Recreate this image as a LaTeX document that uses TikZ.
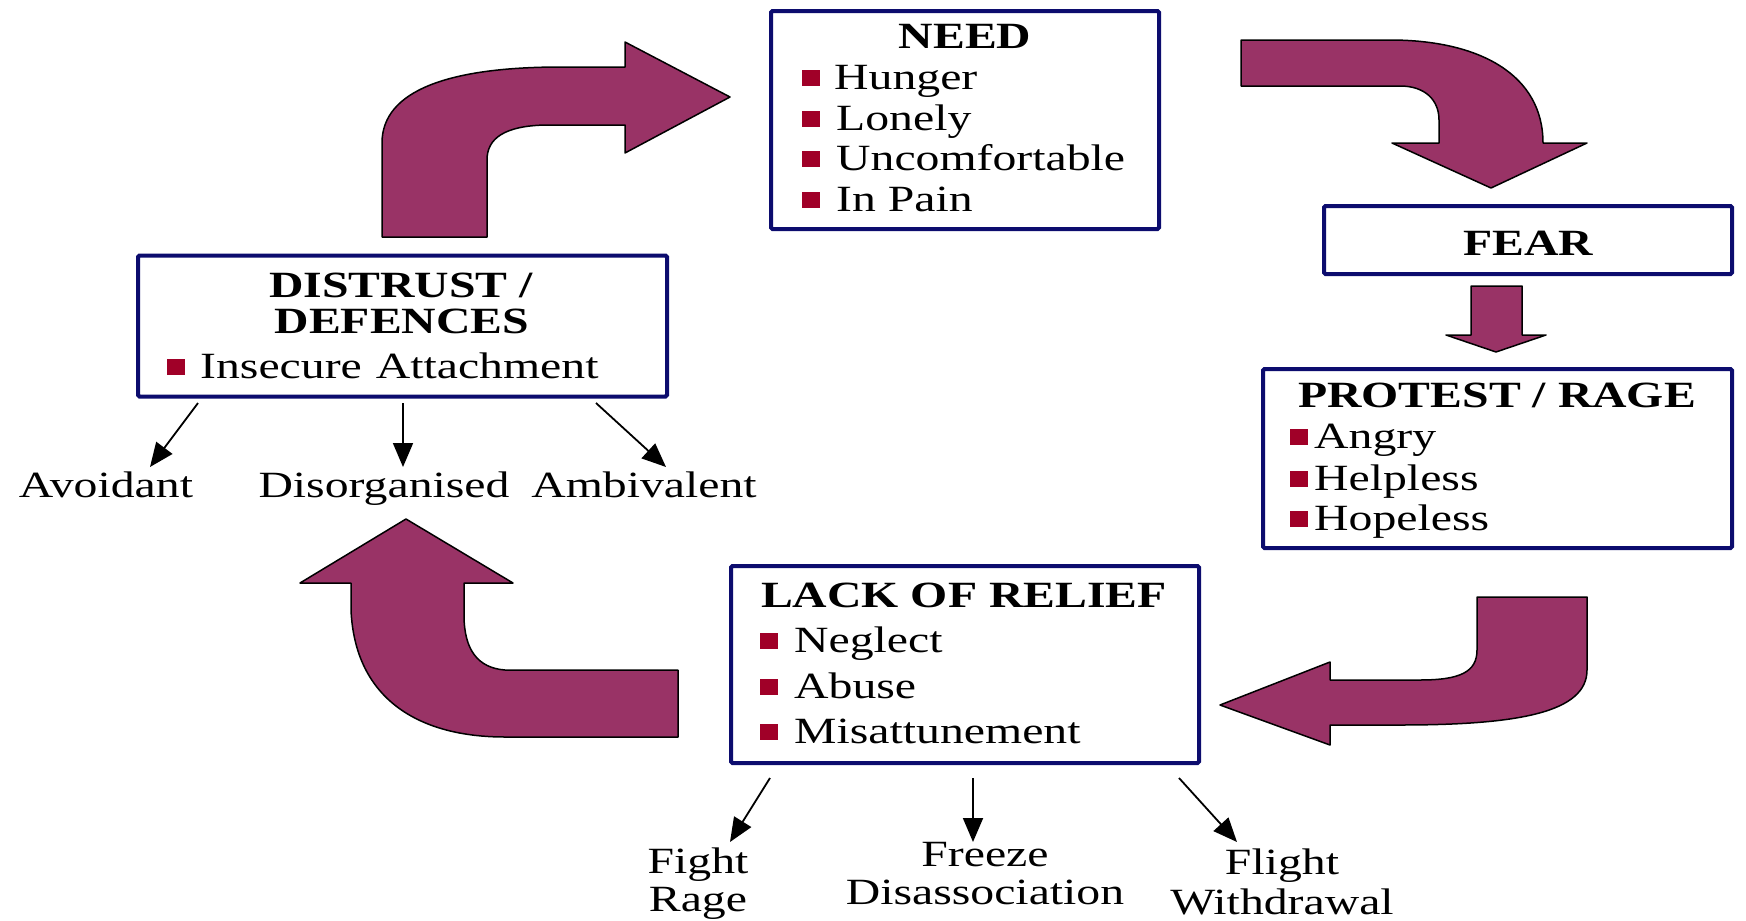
\documentclass[tikz,border=0pt]{standalone}
\usepackage{fontspec}
\setmainfont{Liberation Serif}[FakeStretch=1.29]
\usetikzlibrary{arrows.meta}
\definecolor{arrowpurple}{RGB}{153,51,102}
\definecolor{boxnavy}{RGB}{12,12,110}
\definecolor{bulletred}{RGB}{160,0,40}
\newcommand{\bul}{\textcolor{bulletred}{\rule[3pt]{18pt}{16pt}}}
\begin{document}
\begin{tikzpicture}[x=1pt,y=-1pt,
  box/.style={draw=boxnavy, line width=4pt, rounded corners=1.5pt, fill=white, inner sep=0pt},
  big/.style={fill=arrowpurple, draw=black, line width=1.5pt, line join=round},
  thinarrow/.style={draw=black, line width=1.8pt, -{Triangle[length=24pt,width=20pt]}},
  txt/.style={inner sep=0pt, anchor=base west, font=\fontsize{37}{37}\selectfont},
  ttl/.style={inner sep=0pt, anchor=base, font=\fontsize{37}{37}\selectfont\bfseries},
  lbl/.style={inner sep=0pt, anchor=base, font=\fontsize{37}{37}\selectfont}
]
\useasboundingbox (0,0) rectangle (1746,921);

% ---------- boxes ----------
\node[box, minimum width=388pt, minimum height=218pt] (need) at (965,120) {};
\node[box, minimum width=408pt, minimum height=68pt] (fear) at (1528,240) {};
\node[box, minimum width=469pt, minimum height=179pt] (protest) at (1497.5,458.5) {};
\node[box, minimum width=468pt, minimum height=197pt] (lack) at (965,664.5) {};
\node[box, minimum width=529pt, minimum height=141pt] (distrust) at (402.5,326) {};

% ---------- NEED ----------
\node[ttl] (needt) at (965,48) {NEED};
\node[txt] (n1) at (802,89) {\bul\hspace{14pt}Hunger};
\node[txt] (n2) at (802,130) {\bul\hspace{16pt}Lonely};
\node[txt] (n3) at (802,170) {\bul\hspace{16pt}Uncomfortable};
\node[txt] (n4) at (802,211) {\bul\hspace{16pt}In Pain};

% ---------- FEAR ----------
\node[ttl] (feart) at (1528,255) {FEAR};

% ---------- PROTEST / RAGE ----------
\node[ttl] (prot) at (1497,407) {PROTEST / RAGE};
\node[txt] (p1) at (1290,448) {\bul\hspace{6pt}Angry};
\node[txt] (p2) at (1290,490) {\bul\hspace{6pt}Helpless};
\node[txt] (p3) at (1290,530) {\bul\hspace{6pt}Hopeless};

% ---------- LACK OF RELIEF ----------
\node[ttl] (lackt) at (964,607) {LACK OF RELIEF};
\node[txt] (l1) at (760,652) {\bul\hspace{16pt}Neglect};
\node[txt] (l2) at (760,698) {\bul\hspace{16pt}Abuse};
\node[txt] (l3) at (760,743) {\bul\hspace{16pt}Misattunement};

% ---------- DISTRUST / DEFENCES ----------
\node[ttl] (dt1) at (401,297) {DISTRUST /};
\node[ttl] (dt2) at (402,333) {DEFENCES};
\node[txt] (d1) at (167,378) {\bul\hspace{15pt}Insecure\hspace{14pt}Attachment};

% ---------- outcome labels ----------
\node[lbl] (avoid) at (106,497) {Avoidant};
\node[lbl] (disorg) at (384,497) {Disorganised};
\node[lbl] (ambiv) at (644,497) {Ambivalent};
\node[lbl] (fight) at (698,873) {Fight};
\node[lbl] (rage) at (698,911) {Rage};
\node[lbl] (freeze) at (985,866) {Freeze};
\node[lbl] (disass) at (985,904) {Disassociation};
\node[lbl] (flight) at (1282,874) {Flight};
\node[lbl] (withd) at (1282,914) {Withdrawal};

% ---------- thin arrows ----------
\coordinate (ds1) at (198,403); \coordinate (de1) at (150,467);
\coordinate (ds2) at (403,403); \coordinate (de2) at (403,467);
\coordinate (ds3) at (596,403); \coordinate (de3) at (666,467);
\draw[thinarrow] (ds1) -- (de1);
\draw[thinarrow] (ds2) -- (de2);
\draw[thinarrow] (ds3) -- (de3);
\coordinate (ls1) at (770,778); \coordinate (le1) at (730,842);
\coordinate (ls2) at (973,778); \coordinate (le2) at (973,842);
\coordinate (ls3) at (1179,778); \coordinate (le3) at (1237,842);
\draw[thinarrow] (ls1) -- (le1);
\draw[thinarrow] (ls2) -- (le2);
\draw[thinarrow] (ls3) -- (le3);

% ---------- big block arrows ----------
% distrust -> need
\draw[big] (382,237) -- (382,143) .. controls (382,90) and (450,67) .. (561,67)
  -- (625,67) -- (625,42) -- (730,97) -- (625,153) -- (625,125) -- (545,125)
  .. controls (505,126) and (487,138) .. (487,160) -- (487,237) -- cycle;
% need -> fear
\draw[big] (1241,40) -- (1390,40) .. controls (1480,40) and (1543,75) .. (1543,143)
  -- (1587,143) -- (1491,188) -- (1392,143) -- (1439,143) -- (1439,120)
  .. controls (1439,100) and (1425,86) .. (1400,86) -- (1241,86) -- cycle;
% fear -> protest
\draw[big] (1471,286) -- (1522,286) -- (1522,335) -- (1546,335) -- (1496,352)
  -- (1446,335) -- (1471,335) -- cycle;
% protest -> lack
\draw[big] (1477,597) -- (1587,597) -- (1587,670) .. controls (1587,712) and (1520,725) .. (1400,725)
  -- (1330,725) -- (1330,745) -- (1220,705) -- (1330,662) -- (1330,680) -- (1420,680)
  .. controls (1460,680) and (1477,672) .. (1477,650) -- cycle;
% lack -> distrust
\draw[big] (678,670) -- (505,670) .. controls (478,668) and (464,650) .. (464,615)
  -- (464,583) -- (513,583) -- (406,519) -- (300,583) -- (351,583) -- (351,610)
  .. controls (355,700) and (420,737) .. (505,737) -- (678,737) -- cycle;
\end{tikzpicture}
\end{document}
